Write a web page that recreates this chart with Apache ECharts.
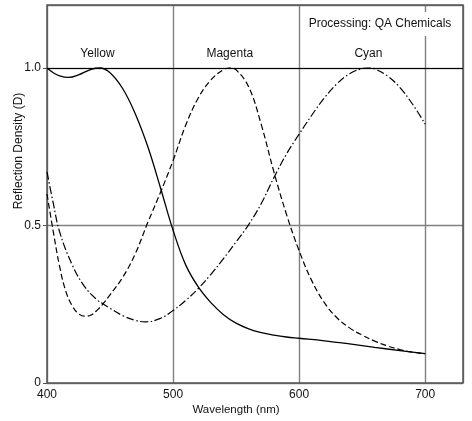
<!DOCTYPE html>
<html>
<head>
<meta charset="utf-8">
<script src="https://cdn.jsdelivr.net/npm/echarts@6/dist/echarts.min.js"></script>
<style>
  html, body { margin: 0; padding: 0; background: #fff; }
  #chart { width: 472px; height: 421px; }
</style>
</head>
<body>
<div id="chart"></div>
<script>
// wavelengths (nm) for each curve
var yellowNm = [400, 405, 410, 417, 425, 435, 442, 450, 460, 470, 480, 490, 500, 510, 520, 530, 540, 550, 560, 570, 580, 590, 600, 620, 640, 660, 680, 700];
var yellowD  = [1.0, 0.985, 0.975, 0.97, 0.978, 0.996, 1.0, 0.985, 0.935, 0.855, 0.75, 0.62, 0.485, 0.375, 0.305, 0.255, 0.217, 0.19, 0.172, 0.16, 0.152, 0.146, 0.142, 0.134, 0.124, 0.113, 0.103, 0.093];

var magentaNm = [400, 405, 410, 415, 420, 425, 430, 435, 440, 445, 450, 460, 470, 480, 490, 500, 510, 520, 530, 540, 545, 550, 560, 570, 580, 590, 600, 610, 620, 630, 640, 650, 660, 670, 680, 690, 700];
var magentaD  = [0.60, 0.48, 0.37, 0.29, 0.245, 0.22, 0.212, 0.216, 0.232, 0.254, 0.28, 0.335, 0.41, 0.51, 0.605, 0.706, 0.818, 0.905, 0.962, 0.995, 1.0, 0.994, 0.94, 0.82, 0.67, 0.535, 0.42, 0.325, 0.255, 0.207, 0.175, 0.152, 0.133, 0.118, 0.106, 0.098, 0.093];

var cyanNm = [400, 405, 410, 420, 430, 440, 445, 450, 460, 470, 478, 490, 500, 510, 520, 530, 540, 550, 560, 570, 580, 590, 600, 610, 620, 630, 640, 650, 655, 660, 670, 680, 690, 700];
var cyanD  = [0.67, 0.57, 0.48, 0.375, 0.305, 0.263, 0.25, 0.237, 0.214, 0.199, 0.194, 0.205, 0.23, 0.262, 0.30, 0.345, 0.395, 0.448, 0.503, 0.57, 0.652, 0.727, 0.79, 0.85, 0.905, 0.95, 0.982, 0.998, 1.0, 0.997, 0.975, 0.938, 0.885, 0.822];

// dye names and where they sit (nm, D)
var dyeNames = ['Yellow', 'Magenta', 'Cyan'];
var dyeLabelNm = [440, 545, 655];
var dyeLabelD = 1.045;

var xTicks = [400, 500, 600, 700];
var yTicks = [0, 0.5, 1.0];

function pairs(xs, ys) {
    var out = [];
    for (var i = 0; i < xs.length; i++) {
        out.push([xs[i], ys[i]]);
    }
    return out;
}

var font = 'Liberation Sans, Arial, sans-serif';
var myChart = echarts.init(document.getElementById('chart'), null, {renderer: 'canvas'});

var lineBase = {
    type: 'line',
    showSymbol: false,
    smooth: 0.4,
    silent: true,
    animation: false
};

option = {
    animation: false,
    grid: {
        left: 47, top: 5, right: 9, bottom: 38,
        show: true,
        borderColor: '#555',
        borderWidth: 1.5,
        z: 3
    },
    xAxis: {
        type: 'value',
        min: 400,
        max: 730,
        interval: 100,
        axisLine: { show: false },
        axisTick: { show: false },
        axisLabel: {
            showMaxLabel: false,
            color: '#111',
            fontFamily: font,
            fontSize: 12,
            margin: 6
        },
        splitLine: { lineStyle: { color: '#808080', width: 1.4 } }
    },
    yAxis: {
        type: 'value',
        min: 0,
        max: 1.2,
        interval: 0.5,
        axisLine: { show: false },
        axisTick: { show: true, length: 4, lineStyle: { color: '#555' } },
        axisLabel: {
            showMaxLabel: false,
            color: '#111',
            fontFamily: font,
            fontSize: 12,
            margin: 6,
            formatter: function (v) {
                return v === 0 ? '0' : v.toFixed(1);
            }
        },
        splitLine: { lineStyle: { color: '#808080', width: 1.4 } }
    },
    series: [
        Object.assign({}, lineBase, {
            name: 'Yellow',
            data: pairs(yellowNm, yellowD),
            lineStyle: { color: '#000', width: 1.3 },
            markLine: {
                silent: true,
                symbol: 'none',
                label: { show: false },
                lineStyle: { color: '#000', width: 1.2, type: 'solid' },
                data: [{ yAxis: 1.0 }]
            }
        }),
        Object.assign({}, lineBase, {
            name: 'Magenta',
            data: pairs(magentaNm, magentaD),
            lineStyle: { color: '#000', width: 1.2, type: [6, 3] }
        }),
        Object.assign({}, lineBase, {
            name: 'Cyan',
            data: pairs(cyanNm, cyanD),
            lineStyle: { color: '#000', width: 1.2, type: [8, 2.5, 1.5, 2.5] }
        })
    ]
};

myChart.setOption(option);

// text layer
var texts = [];
for (var i = 0; i < dyeNames.length; i++) {
    var p = myChart.convertToPixel({ gridIndex: 0 }, [dyeLabelNm[i], dyeLabelD]);
    texts.push({
        type: 'text', x: p[0], y: p[1], z: 100,
        style: { text: dyeNames[i], fill: '#111', font: '12px ' + font, align: 'center', verticalAlign: 'middle' }
    });
}
texts.push({
    type: 'text', x: 380, y: 24, z: 100,
    style: {
        text: 'Processing: QA Chemicals', fill: '#111', font: '12px ' + font,
        align: 'center', verticalAlign: 'middle',
        backgroundColor: '#fff', padding: [6, 3, 6, 3]
    }
});
texts.push({
    type: 'text', x: 236, y: 410, z: 100,
    style: { text: 'Wavelength (nm)', fill: '#111', font: '11.5px ' + font, align: 'center', verticalAlign: 'middle' }
});
texts.push({
    type: 'text', x: 19, y: 151, z: 100, rotation: Math.PI / 2,
    style: { text: 'Reflection Density (D)', fill: '#111', font: '12px ' + font, align: 'center', verticalAlign: 'middle' }
});

myChart.setOption({ graphic: texts });
</script>
</body>
</html>
